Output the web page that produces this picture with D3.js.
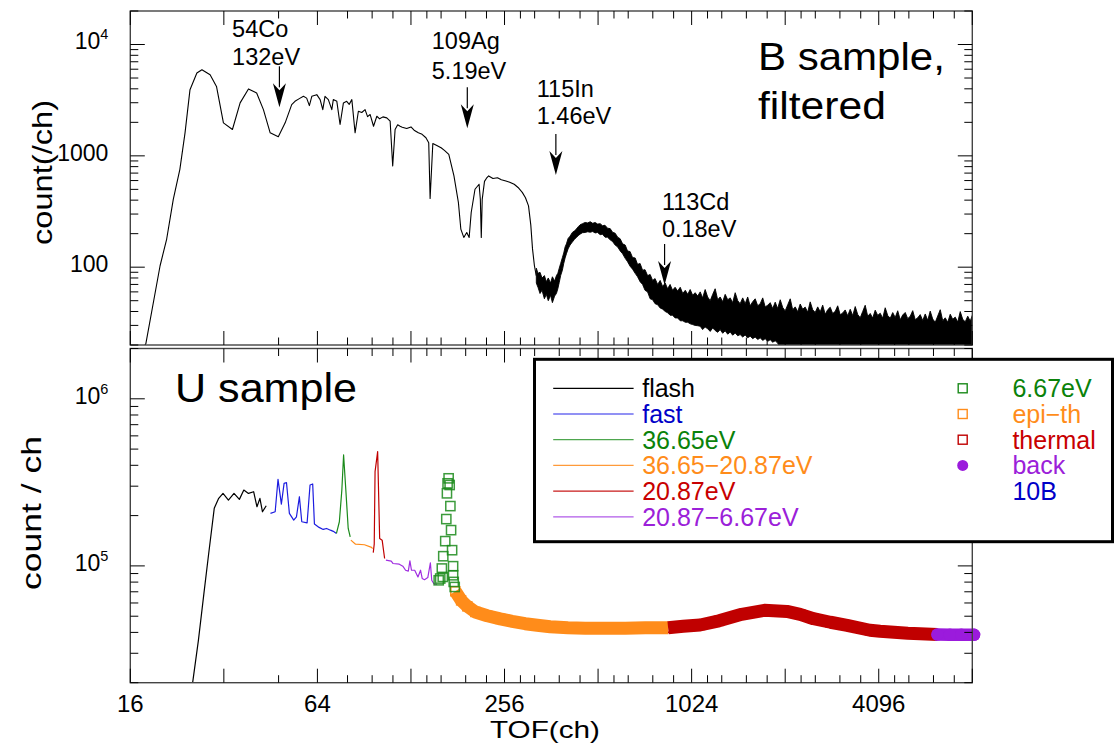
<!DOCTYPE html>
<html><head><meta charset="utf-8">
<script src="https://cdn.jsdelivr.net/npm/d3@7"></script>
<style>body{margin:0;background:#fff}svg{display:block}text{font-family:"Liberation Sans",Arial,sans-serif}</style>
</head><body><svg id="c" width="1117" height="744"></svg>
<script>
// ---------- DATA ----------
// Top panel: B sample, filtered  [TOF ch, count]
const bSpectrum = [[17.4,18],[17.95,20.5],[19.95,103],[20.95,179],[22.0,407],[23.1,757],[24.0,1610],[24.9,3930],[26.2,5540],[27.2,5940],[28.9,5350],[30.3,4200],[31.9,1980],[34.1,1725],[36.1,2990],[38.4,3990],[40.8,3670],[42.9,2600],[45.1,1610],[47.9,1484],[50.4,1980],[52.9,2885],[54.2,3090],[55.8,3250],[57.7,3423],[59.1,3300],[60.3,2827],[61.4,3423],[63.7,3545],[65.3,3200],[66.6,2600],[67.7,3423],[69.4,3200],[71.2,2600],[72.0,3200],[73.9,3090],[75.7,1911],[77.6,2990],[79.5,3090],[81.0,2900],[82.6,3200],[84.6,1610],[86.7,2514],[88.9,2450],[91.1,2600],[92.8,2250],[94.6,2350],[97.0,1845],[99.4,2268],[101.5,2150],[104,2240],[107,2193],[109.7,2046],[111.8,810],[113.8,1725],[116,1900],[118.1,1845],[120,1810],[124,1760],[128,1820],[131,1700],[135.2,1610],[139,1560],[143,1454],[146,1312],[147.5,414],[150.5,1292],[155,1240],[160,1183],[164,1120],[169.4,1030],[176,660],[181.9,381],[185.2,220],[189.3,185],[193.5,205],[197,185],[200,310],[205.7,501],[212,556],[214,407],[215.5,185],[217,407],[220.7,590],[224,630],[227.6,660],[235,625],[243,636],[250,610],[258.6,594],[266,580],[275,556],[283,520],[292,470],[299,420],[305.8,355],[311,240],[315,146],[319.5,103],[323.8,84]];
// Noisy region: [TOF ch, upper count, lower count]
const bNoiseBand = [[324,98,72],[328,88,66],[333,90,58],[338,80,62],[344,84,52],[349,74,57],[354,80,50],[360,72,56],[365,82,48],[371,75,55],[376,84,58],[380,88,64],[384,98,73],[388,108,84],[393,122,94],[397,134,108],[401,152,121],[405,162,132],[410,181,146],[416,190,158],[423,205,168],[430,212,178],[436,220,185],[442,231,192],[448,240,198],[456,246,204],[465,252,205],[474,250,208],[483,256,206],[492,248,209],[501,252,203],[510,244,205],[520,246,196],[529,236,198],[539,238,186],[549,224,186],[560,222,176],[570,206,170],[581,202,158],[592,186,152],[603,180,140],[614,162,132],[626,158,120],[637,140,112],[649,138,102],[661,122,96],[674,121,88],[686,106,82],[699,108,74],[712,94,70],[725,95,62],[739,84,60],[753,86,52],[767,76,51],[781,79,47],[796,70,46],[811,76,43],[826,67,42],[842,72,40],[857,64,39],[873,70,37],[889,62,37],[906,66,35],[923,61,35],[941,66,33],[959,58,33],[977,62,32],[995,57,32],[1013,63,31],[1032,56,30.5],[1051,59,30],[1071,55,29.8],
[1091,60,29.5],[1111,53,27.5],[1132,63,29],[1153,54,28],[1175,50,26.5],[1197,57,28.5],[1219,64,27],[1242,51,26],[1265,54,27.5],[1289,49,25.5],[1313,57,26.8],[1338,51,25],[1363,53,26.2],[1388,48,24.5],[1414,59,25.6],[1441,50,24.2],[1467,47,24.8],[1495,53,23.6],[1523,47,24.6],[1551,54,23.2],[1580,45,24],[1610,49,22.8],[1640,52,23.6],[1671,45,22.4],[1702,47,23.2],[1734,53,22],[1766,44,22.8],[1799,45.5,21.6],[1833,48,22.3],[1867,42.5,21.2],[1902,48.5,21.8],[1937,42.5,20.8],
[1974,51,19],[2011,43.4,19],[2048,40.5,19],[2087,46,19],[2126,52,19],[2165,41.5,19],[2206,44,19],[2247,39.8,19],[2289,46.7,19],[2332,41.9,19],[2375,43.8,19],[2420,39.4,19],[2465,48.8,19],[2511,41.5,19],[2558,39.2,19],[2606,44,19],[2655,39.7,19],[2704,45.6,19],[2755,37.7,19],[2806,41.5,19],[2859,43.7,19],[2912,38.3,19],[2967,40.1,19],[3022,45,19],[3079,37.3,19],[3136,38.8,19],[3195,41.3,19],[3255,36.6,19],[3316,41.9,19],[3378,36.7,19],[3441,44.3,19],[3505,37.6,19],[3571,35.1,19],[3637,40,19],[3705,45.5,19],[3775,36.2,19],[3845,38.4,19],[3917,34.9,19],[3990,41.1,19],[4065,36.9,19],[4141,38.6,19],[4218,34.8,19],[4297,43.2,19],[4378,36.8,19],[4460,34.8,19],[4543,39.1,19],[4628,35.3,19],[4714,40.6,19],[4803,33.7,19],[4892,37.2,19],[4984,39.2,19],[5077,34.5,19],[5172,36.2,19],[5269,40.7,19],[5367,33.8,19],[5468,35.1,19],[5570,37.5,19],[5674,33.2,19],[5780,38,19],[5888,33.3,19],[5998,40.3,19],[6110,34.2,19],[6225,32,19],[6341,36.4,19],[6460,41.5,19],[6580,33.1,19],[6704,35.1,19],[6829,32,19],[6957,37.8,19],[7087,34,19],[7219,35.6,19],[7354,32.1,19],[7492,39.9,19],[7632,34,19],[7775,32.3,19],[7920,36.3,19],[8068,32.8,19],[8219,37.9,19],[8373,31.4,19]];
const annCh = [48.3, 194.3, 374.5, 838];
const annTip = [2729, 1768, 673, 69.2];
const annLabels = [["54Co","132eV"],["109Ag","5.19eV"],["115In","1.46eV"],["113Cd","0.18eV"]];

// Bottom panel: U sample  [TOF ch, count]
const uFlash = [[25.0,17000],[25.4,20100],[26.5,35800],[27.6,68300],[28.6,118700],[29.8,221000],[30.8,253700],[31.8,271600],[33.1,247900],[34.5,271600],[35.9,250100],[37.1,284500],[38.4,271600],[39.9,277900],[40.9,225900],[41.8,253700],[42.6,210800],[43.8,229100]];
const uFast = [[45.2,206200],[46.8,210800],[47.8,329800],[49.0,234400],[50.0,312000],[50.9,314700],[52.0,206200],[53.7,188000],[54.8,196800],[56.0,259400],[57.0,183700],[59.3,181100],[60.6,304900],[61.8,309200],[62.6,177900],[64.8,170000],[66.8,165300],[68.5,167500],[70.5,163600],[72.0,161000],[73.7,156400]];
const u3665 = [[73.7,156400],[75.3,183700],[76.7,284500],[77.7,461300],[79.0,284500],[80.4,167600],[81.6,149300]];
const u3665to2087 = [[82.0,142600],[84.9,134900],[90.7,133800],[95.6,129000],[96.3,127000]];
const u2087 = [[96.8,120000],[97.5,134900],[98.1,366400],[100,483000],[101.5,146000],[103.4,142600],[105.3,110800]];
const u2087to667 = [[106.3,108200],[110.6,106700],[112,103400],[117.4,102400],[120.5,99600],[123,94200],[125.5,93000],[127,107200],[128.5,94200],[131.6,94200],[134.8,85900],[137.4,94200],[139.1,84100],[141.5,82700],[145,85100],[147.8,104200],[149.3,82000],[151.5,78400],[155.3,77600]];
const u667 = [[157.2,82000],[159,84000],[160.9,96500],[162,85900],[162.6,114300],[165,140700],[166.3,190600],[167.1,271800],[167.9,312000],[169.2,334300],[170.5,304900],[171.4,228000],[172.3,163700],[173.6,124200],[174.9,99600],[174.9,87900],[175.7,80200],[177,74800]];
const uEpith = [[177.8,70500],[185.6,62200],[194.3,57300],[206.2,53000],[225.2,50300],[248,48200],[270.9,46600],[298.4,45100],[326.2,44100],[359.2,43200],[409.5,42600],[465.6,42300],[542,42300],[626,42300],[727,42600],[860,42600]];
const uThermal = [[860,42600],[962,43500],[1090,44300],[1254,46900],[1483,51300],[1756,54200],[2075,53400],[2288,51300],[2525,48300],[2863,46000],[3240,44100],[3839,41200],[4136,40600],[5082,39500],[5561,39200],[6331,38900]];
const uBack = [[6331,38800],[6944,38700],[7550,38700],[8300,38700]];

const xMajorTicks = [16,32,64,128,256,512,1024,2048,4096,8192];
const xMinorTicks = [48,80,96,112,144,160,192,224,288,320,384,448,576,640,768,896,1152,1280,1536,1792,2304,2560,3072,3584,4608,5120,6144,7168];
const xTickLabels = [16,64,256,1024,4096];
const lineLegendLabels = ["flash","fast","36.65eV","36.65\u221220.87eV","20.87eV","20.87\u22126.67eV"];
const markerLegendLabels = ["6.67eV","epi\u2212th","thermal","back","10B"];

// ---------- STYLE ----------
const C = {black:"#000", blue:"#1c1ce0", green:"#1a8a1a", orange:"#ff8c1a", red:"#c00000", purple:"#a02ee0",
  tBlue:"#0000c8", tGreen:"#0a820a", tOrange:"#ff8c1a", tRed:"#c80000", tPurple:"#9b20d9"};

const svg = d3.select("#c");
const L = 130.3, R = 972.3;
const T1 = 11, B1 = 345, T2 = 348.5, B2 = 682.7;
const x = d3.scaleLog().base(2).domain([16,8192]).range([L,R]);
const yTop = d3.scaleLog().domain([20,20000]).range([B1,T1]);
const yBot = d3.scaleLog().domain([2e4,2e6]).range([B2,T2]);

const defs = svg.append("defs");
defs.append("clipPath").attr("id","clipT").append("rect").attr("x",L).attr("y",T1).attr("width",R-L).attr("height",B1-T1);
defs.append("clipPath").attr("id","clipB").append("rect").attr("x",L).attr("y",T2).attr("width",R-L).attr("height",B2-T2);

// ---------- TOP PANEL DATA ----------
const gT = svg.append("g").attr("clip-path","url(#clipT)");
const lineT = d3.line().x(d=>x(d[0])).y(d=>yTop(d[1]));
gT.append("path").attr("d",lineT(bSpectrum)).attr("fill","none").attr("stroke","#000").attr("stroke-width",1.1).attr("stroke-linejoin","round");
const bandArea = d3.area().x(d=>x(d[0])).y0(d=>yTop(d[2])).y1(d=>yTop(d[1]));
gT.append("path").attr("d",bandArea(bNoiseBand)).attr("fill","#000").attr("stroke","#000").attr("stroke-width",0.9).attr("stroke-linejoin","miter");

// annotations
const annLayout = [{dx:-47.3,b:[-29.7,-1.7]},{dx:-35.5,b:[-37.8,-8.3]},{dx:-19.1,b:[-36.6,-10]},{dx:-2.7,b:[-34.3,-6.7]}];
const ARROW = 41, HEAD = 24, HW = 6.5;
annCh.forEach((ch,i)=>{
  const ax = x(ch), tip = yTop(annTip[i]), top = tip-ARROW;
  svg.append("line").attr("x1",ax).attr("x2",ax).attr("y1",top).attr("y2",tip-HEAD+4).attr("stroke","#000").attr("stroke-width",1.2);
  svg.append("path").attr("d",`M${ax},${tip} L${ax-HW},${tip-HEAD} L${ax},${tip-HEAD+7} L${ax+HW},${tip-HEAD} Z`).attr("fill","#000");
  annLabels[i].forEach((s,j)=>{
    svg.append("text").attr("x",ax+annLayout[i].dx).attr("y",top+annLayout[i].b[j]).attr("font-size",23.5).text(s);
  });
});
svg.append("text").attr("x",757.9).attr("y",69.5).attr("font-size",39).attr("textLength",187).attr("lengthAdjust","spacingAndGlyphs").text("B sample,");
svg.append("text").attr("x",757.9).attr("y",118.5).attr("font-size",39).attr("textLength",128).attr("lengthAdjust","spacingAndGlyphs").text("filtered");

// ---------- BOTTOM PANEL DATA ----------
const gB = svg.append("g").attr("clip-path","url(#clipB)");
const lineB = d3.line().x(d=>x(d[0])).y(d=>yBot(d[1]));
[[uFlash,C.black],[uFast,C.blue],[u3665,C.green],[u3665to2087,C.orange],[u2087,C.red],[u2087to667,C.purple]].forEach(([d,c])=>{
  gB.append("path").attr("d",lineB(d)).attr("fill","none").attr("stroke",c).attr("stroke-width",1.2).attr("stroke-linejoin","round");
});
const gM = svg.append("g");
// dense square-marker bands (markers under a band of the same colour)
[[uEpith,C.orange],[uThermal,C.red]].forEach(([d,c])=>{
  gM.selectAll(null).data(d).enter().append("rect").attr("x",p=>x(p[0])-4.5).attr("y",p=>yBot(p[1])-4.5).attr("width",9).attr("height",9).attr("fill","none").attr("stroke",c).attr("stroke-width",1.5);
});
[[uEpith,C.orange],[uThermal,C.red]].forEach(([d,c])=>{
  gM.append("path").attr("d",lineB(d)).attr("fill","none").attr("stroke",c).attr("stroke-width",13).attr("stroke-linejoin","round");
});
gM.append("path").attr("d",lineB(uBack)).attr("fill","none").attr("stroke","#9b1bdc").attr("stroke-width",12.5).attr("stroke-linecap","round");
gM.selectAll(null).data(uBack).enter().append("circle").attr("cx",p=>x(p[0])).attr("cy",p=>yBot(p[1])).attr("r",6.2).attr("fill","#9b1bdc");
gM.selectAll(null).data(u667).enter().append("rect").attr("x",p=>x(p[0])-4.6).attr("y",p=>yBot(p[1])-4.6).attr("width",9.2).attr("height",9.2).attr("fill","none").attr("stroke",C.green).attr("stroke-width",1.5).attr("stroke-opacity",0.85);

svg.append("text").attr("x",175).attr("y",401.7).attr("font-size",40).attr("textLength",182).attr("lengthAdjust","spacingAndGlyphs").text("U sample");

// ---------- AXES / FRAMES ----------
function frame(top,bot,y){
  svg.append("rect").attr("x",L).attr("y",top).attr("width",R-L).attr("height",bot-top).attr("fill","none").attr("stroke","#444").attr("stroke-width",1.4);
  const g = svg.append("g").attr("stroke","#000").attr("stroke-width",1);
  xMajorTicks.forEach(v=>{const xx=x(v);
    g.append("line").attr("x1",xx).attr("x2",xx).attr("y1",top).attr("y2",top+14);
    g.append("line").attr("x1",xx).attr("x2",xx).attr("y1",bot).attr("y2",bot-14);});
  xMinorTicks.forEach(v=>{const xx=x(v);
    g.append("line").attr("x1",xx).attr("x2",xx).attr("y1",top).attr("y2",top+7.5);
    g.append("line").attr("x1",xx).attr("x2",xx).attr("y1",bot).attr("y2",bot-7.5);});
  const [d0,d1] = y.domain();
  for(let e=Math.floor(Math.log10(d0)); e<=Math.ceil(Math.log10(d1)); e++){
    for(let k=1;k<=9;k++){
      const v=k*Math.pow(10,e); if(v<d0*0.999||v>d1*1.001) continue;
      const yy=y(v), len = k===1?14.5:8;
      g.append("line").attr("x1",L).attr("x2",L+len).attr("y1",yy).attr("y2",yy);
      g.append("line").attr("x1",R).attr("x2",R-len).attr("y1",yy).attr("y2",yy);
    }
  }
}
frame(T1,B1,yTop);
frame(T2,B2,yBot);

// y tick labels
function ylab(y,v,base,sup){
  const t = svg.append("text").attr("x",108.3).attr("y",y(v)+4.8).attr("text-anchor","end").attr("font-size",23);
  t.append("tspan").text(base);
  if(sup) t.append("tspan").attr("dy",-10).attr("font-size",14.5).text(sup);
}
ylab(yTop,1e4,"10","4"); ylab(yTop,1000,"1000"); ylab(yTop,100,"100");
ylab(yBot,1e6,"10","6"); ylab(yBot,1e5,"10","5");
xTickLabels.forEach(v=>svg.append("text").attr("x",x(v)).attr("y",712.2).attr("text-anchor","middle").attr("font-size",24).text(v));

svg.append("text").attr("transform","translate(51.5,172.5) rotate(-90)").attr("text-anchor","middle").attr("font-size",28).attr("textLength",145).attr("lengthAdjust","spacingAndGlyphs").text("count(/ch)");
svg.append("text").attr("transform","translate(40.5,513) rotate(-90)").attr("text-anchor","middle").attr("font-size",28).attr("textLength",154).attr("lengthAdjust","spacingAndGlyphs").text("count / ch");
svg.append("text").attr("x",545).attr("y",738).attr("text-anchor","middle").attr("font-size",24).attr("textLength",110).attr("lengthAdjust","spacingAndGlyphs").text("TOF(ch)");

// ---------- LEGEND ----------
const lg = svg.append("g");
lg.append("rect").attr("x",534.5).attr("y",359.3).attr("width",578).attr("height",182.4).attr("fill","#fff").attr("stroke","#000").attr("stroke-width",3);
const rowY = i => 388.3 + i*25.7;
const lineCols = ["#000","#6c6cf0","#4ea64e","#ff9a3a","#c81a1a","#b05ae8"];
const lineText = ["#000",C.tBlue,C.tGreen,C.tOrange,C.tRed,C.tPurple];
lineLegendLabels.forEach((s,i)=>{
  lg.append("line").attr("x1",553.2).attr("x2",633.6).attr("y1",rowY(i)).attr("y2",rowY(i)).attr("stroke",lineCols[i]).attr("stroke-width",1.3);
  lg.append("text").attr("x",642.2).attr("y",rowY(i)+9).attr("font-size",25).attr("fill",lineText[i]).text(s);
});
const mkText = [C.tGreen,C.tOrange,C.tRed,C.tPurple,C.tBlue];
const mkCol = [C.green,C.orange,C.red,"#9b1bdc"];
markerLegendLabels.forEach((s,i)=>{
  if(i<3) lg.append("rect").attr("x",962.7-4.5).attr("y",rowY(i)-4.5).attr("width",9).attr("height",9).attr("fill","none").attr("stroke",mkCol[i]).attr("stroke-width",1.4);
  else if(i===3) lg.append("circle").attr("cx",962.7).attr("cy",rowY(i)).attr("r",5.5).attr("fill",mkCol[i]);
  lg.append("text").attr("x",1012.4).attr("y",rowY(i)+9).attr("font-size",25).attr("fill",mkText[i]).text(s);
});
</script></body></html>
